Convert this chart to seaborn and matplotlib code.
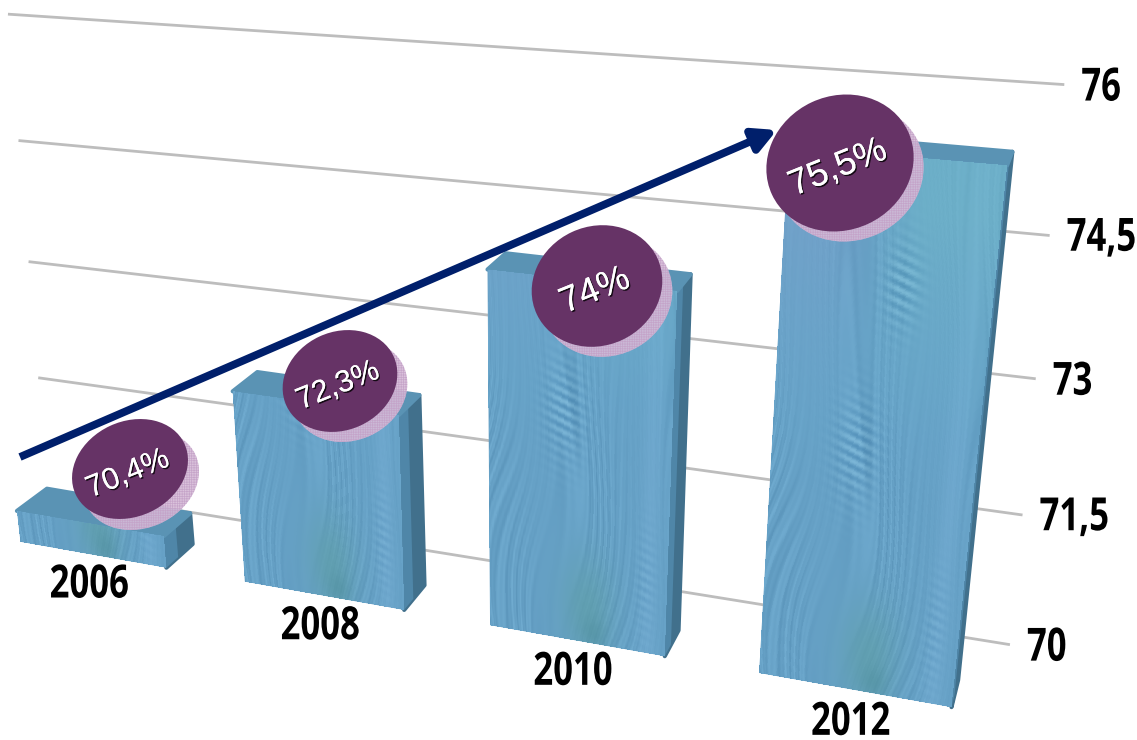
import numpy as np
import matplotlib
matplotlib.use("Agg")
import matplotlib.pyplot as plt
import matplotlib.patheffects as pe
from matplotlib.patches import Ellipse, Polygon
from matplotlib.transforms import Affine2D, Transform
import seaborn as sns

# ---- data ----
YEARS = ["2006", "2008", "2010", "2012"]
VALUES = [70.4, 72.3, 74.0, 75.5]
VALUE_LABELS = ["70,4%", "72,3%", "74%", "75,5%"]
GRID_VALUES = [70, 71.5, 73, 74.5, 76]
GRID_LABELS = ["70", "71,5", "73", "74,5", "76"]

# ---- layout (pixels of the 1137x740 picture, y down) ----
W, H = 1137, 740
BASE = 70.0
BAR_WIDTH = 0.66
WALL_POSE = [(0, 70, 48, 490), (1, 70, 1010, 645), (1, 76, 1065, 85), (0, 76, 8, 15),
             (0, 73, 28, 260), (1, 73, 1035, 378)]
FRONT_POSE = [(-.33, 70, 18, 545), (.33, 70, 165, 568), (.67, 70, 243, 583), (1.33, 70, 405, 606),
              (1.67, 70, 488, 628), (2.33, 70, 665, 657), (2.67, 70, 755, 672), (3.33, 70, 955, 708),
              (-.33, 70.4, 18, 510), (.33, 70.4, 165, 530), (.67, 72.3, 234, 393), (1.33, 72.3, 405, 417),
              (1.67, 74, 488, 272), (2.33, 74, 682, 288), (2.67, 75.5, 780, 144), (3.33, 75.5, 1008, 167)]
DEPTH_VP = np.array([1217.0, -378.0])
DEPTH = 0.025
BADGES = [((130, 469), 120, 95, 25), ((340, 381), 118, 98, 25),
          ((597, 286), 133, 119, 25), ((840, 163), 150, 134, 25)]
SHADOW = [11, 10, 10, 10]
ARROW = ((20, 457), (777, 130))

PURPLE = "#663366"
NAVY = "#001F6B"
GRID = "#BDBDBD"
AXIS_FONT = ["Open Sans", "Lato"]


def fit_h(pose):
    A, b = [], []
    for u, v, x, y in pose:
        A.append([u, v, 1, 0, 0, 0, -u * x, -v * x]); b.append(x)
        A.append([0, 0, 0, u, v, 1, -u * y, -v * y]); b.append(y)
    p = np.linalg.lstsq(np.array(A, float), np.array(b, float), rcond=None)[0]
    return np.append(p, 1).reshape(3, 3)


class Homography(Transform):
    input_dims = output_dims = 2
    is_separable = False
    has_inverse = False

    def __init__(self, M):
        super().__init__()
        self.M = M

    def transform_non_affine(self, xy):
        xy = np.asarray(xy, float)
        h = np.c_[xy, np.ones(len(xy))] @ self.M.T
        return h[:, :2] / h[:, 2:]


class TallGlyphs(pe.AbstractPathEffect):
    """Stretch the glyphs upright about their middle: the narrow, tall numerals of the reference."""

    def __init__(self, k):
        super().__init__()
        self.k = k

    def draw_path(self, renderer, gc, tpath, affine, rgbFace=None):
        ys = tpath.vertices[:, 1]
        mid = .5 * (ys.min() + ys.max())
        stretch = Affine2D().translate(0, -mid).scale(1, self.k).translate(0, mid)
        renderer.draw_path(gc, tpath, stretch + affine, rgbFace)


sns.set_theme(style="white")
plt.rcParams["hatch.linewidth"] = 0.5
fig = plt.figure(figsize=(W / 100, H / 100), dpi=100, facecolor="white")
ax = fig.add_axes([0, 0, 1, 1])
PIX = Affine2D().scale(1 / W, -1 / H).translate(0, 1) + fig.transFigure
WALL = Homography(fit_h(WALL_POSE))
FRONT = Homography(fit_h(FRONT_POSE))
tall = [TallGlyphs(1.32)]

# gridlines on the back wall
for v, lab in zip(GRID_VALUES, GRID_LABELS):
    ax.plot([0, 1], [v, v], color=GRID, lw=2.0, transform=WALL + PIX, zorder=1, solid_capstyle="butt")
    ex, ey = WALL.transform(np.array([[1.0, v]]))[0]
    ax.text(ex + 17, ey + 3, lab, transform=PIX, ha="left", va="center", fontsize=25,
            family=AXIS_FONT, weight="bold", color="black", zorder=9, path_effects=tall)

# bars
sns.barplot(x=YEARS, y=VALUES, color="#649FC5", saturation=1, width=BAR_WIDTH, ax=ax, zorder=3)


def texture(s, dv, top):
    flow = s + .07 * np.sin(.9 * dv + 1 + 2.4 * s) + .03 * np.sin(1.7 * dv + 5 * s)
    ph = 2 * np.pi * (19 * flow + 1.6 * np.sin(8.3 * flow) + .7 * np.sin(21 * flow + .6 * dv))
    st = .6 * np.sin(ph) + .4 * np.sin(2.7 * ph + 1.3)
    st = st * (.6 + .4 * np.sin(.8 * dv + 11 * s))
    rgb = np.stack([0.40 + 0 * s, 0.63 + 0 * s, 0.775 + 0 * s], -1)
    rgb = rgb + st[..., None] * np.array([.040, .042, .040])

    def blend(col, mask):
        nonlocal rgb
        rgb = rgb * (1 - mask[..., None]) + np.array(col) * mask[..., None]

    g = lambda s0, d0, ss, sd: np.exp(-((s - s0) / ss) ** 2 - ((dv - d0) / sd) ** 2)
    blend((.37, .62, .66), .7 * g(.56, .40, .15, .60))
    blend((.30, .55, .60), .45 * g(.60, .12, .07, .18))
    blend((.46, .68, .83), .5 * np.exp(-((s - .90) / .05) ** 2))
    up = np.clip((dv - 2.8) / 2.2, 0, 1)
    blend((.44, .72, .79), .6 * up * np.clip((s - .35) / .3, 0, 1))
    blend((.49, .63, .80), .5 * up * np.clip((.5 - s) / .3, 0, 1))
    blend((.41, .66, .80), .45 * np.clip((dv - 2.2) / 1.5, 0, 1) * np.clip(1 - up, 0, 1))
    ridge = np.sin(2 * np.pi * (9 * dv + 7 * s))
    mask = g(.42, 2.6, .10, .5) + g(.58, 4.3, .08, .4) * (top > 75) + .4 * g(.88, .8, .05, .6)
    rgb = rgb + (ridge * np.clip(mask, 0, 1))[..., None] * np.array([.07, .065, .05])
    return np.clip(rgb, 0, 1)


for i, patch in enumerate(list(ax.patches)):
    top = patch.get_height()
    patch.set_y(BASE)
    patch.set_height(top - BASE)
    patch.set_linewidth(0)
    patch.set_transform(FRONT + PIX)
    x0, x1 = patch.get_x(), patch.get_x() + patch.get_width()

    fc = FRONT.transform(np.array([[x0, BASE], [x1, BASE], [x1, top], [x0, top]], float))
    bc = fc + DEPTH * (DEPTH_VP - fc)
    side = Polygon([fc[1], bc[1], bc[2], fc[2]], closed=True, fc="#41708C", ec="#41708C", lw=3,
                   joinstyle="round", transform=PIX, zorder=2.6)
    band = Polygon([fc[1], .55 * fc[1] + .45 * bc[1], .55 * fc[2] + .45 * bc[2], fc[2]], closed=True,
                   fc="#4F86A8", ec="none", transform=PIX, zorder=2.65)
    roof = Polygon([fc[3], fc[2], bc[2], bc[3]], closed=True, fc="#5A93B4", ec="#5A93B4", lw=3,
                   joinstyle="round", transform=PIX, zorder=2.7)
    ax.add_patch(side)
    ax.add_patch(band)
    ax.add_patch(roof)

    ue = np.linspace(x0, x1, 241)
    ve = np.linspace(BASE, top, max(8, int((top - BASE) * 90)))
    uc, vc = .5 * (ue[1:] + ue[:-1]), .5 * (ve[1:] + ve[:-1])
    S, D = np.meshgrid((uc - x0) / (x1 - x0), vc - BASE)
    ax.pcolormesh(ue, ve, texture(S, D, top), shading="flat", transform=FRONT + PIX, zorder=3.1,
                  linewidth=0, antialiased=False)

    # year label beneath the bar
    cx, cy = FRONT.transform(np.array([[float(i), BASE]]))[0]
    ax.text(cx - 3, cy + 30 + 0.7 * i, YEARS[i], transform=PIX, ha="center", va="center", fontsize=25,
            family=AXIS_FONT, weight="bold", color="black", zorder=9, path_effects=tall)

# trend arrow
ax.annotate("", xy=ARROW[1], xytext=ARROW[0], xycoords=PIX, textcoords=PIX, zorder=5,
            arrowprops=dict(arrowstyle="-|>,head_length=0.8,head_width=0.42", mutation_scale=17,
                            color=NAVY, lw=5.6, shrinkA=0, shrinkB=0, capstyle="butt"))

# value badges
shadow_fx = [pe.withSimplePatchShadow(offset=(1.0, -1.0), shadow_rgbFace="black", alpha=0.8), pe.Normal()]
for (centre, bw, bh, ang), off, lab in zip(BADGES, SHADOW, VALUE_LABELS):
    cx, cy = centre
    ax.add_patch(Ellipse((cx + off, cy + off), bw, bh, angle=-ang, fc="#D6BCD8", ec="#C4A2C8",
                         lw=0, hatch="+++++++", alpha=0.9, transform=PIX, zorder=6))
    ax.add_patch(Ellipse((cx, cy), bw, bh, angle=-ang, fc=PURPLE, ec="none", transform=PIX, zorder=7))
    ax.text(cx - 2, cy + 5, lab, transform=PIX, ha="center", va="center", rotation=22, rotation_mode="anchor",
            fontsize=26 if bw > 125 else 22, family="Liberation Sans", color="white", zorder=8,
            path_effects=shadow_fx)

ax.set_xlim(-1, 4)
ax.set_ylim(69, 77)
ax.axis("off")
fig.savefig("out.png", dpi=100, facecolor="white")
